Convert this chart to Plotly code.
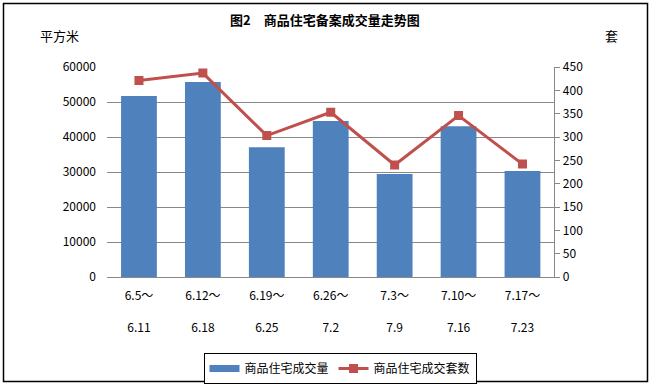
import plotly.graph_objects as go
from plotly.subplots import make_subplots

periods_start = ["6.5～", "6.12～", "6.19～", "6.26～", "7.3～", "7.10～", "7.17～"]
periods_end = ["6.11", "6.18", "6.25", "7.2", "7.9", "7.16", "7.23"]
area_m2 = [51700, 55700, 37100, 44600, 29400, 43100, 30300]
units = [421, 437, 303, 353, 240, 346, 242]

cats = list(range(len(periods_start)))
ticktext = [f"{a}<br><br>{b}" for a, b in zip(periods_start, periods_end)]

FONT = "Noto Sans CJK SC"
BLUE, RED = "#4F81BD", "#C0504D"
fig = make_subplots(specs=[[{"secondary_y": True}]])
fig.add_trace(go.Bar(x=cats, y=area_m2, name="商品住宅成交量", showlegend=False,
                     marker=dict(color=BLUE, line=dict(width=0)), width=0.56),
              secondary_y=False)
# legend entry drawn as a wide block, like the reference
fig.add_trace(go.Scatter(x=[None], y=[None], name="商品住宅成交量", mode="lines",
                         line=dict(color=BLUE, width=7)), secondary_y=False)
fig.add_trace(go.Scatter(x=cats, y=units, name="商品住宅成交套数", mode="lines+markers",
                         line=dict(color=RED, width=3),
                         marker=dict(symbol="square", size=9, color=RED)),
              secondary_y=True)

L, R, T, B = 107, 68, 67, 109
W, H = 651, 386
pw, ph = W - L - R, H - T - B
def px(x): return (x - L) / pw
def py(y): return (H - B - y) / ph

fig.update_layout(
    width=W, height=H, margin=dict(l=L, r=R, t=T, b=B, autoexpand=False),
    paper_bgcolor="white", plot_bgcolor="white",
    font=dict(family=FONT, size=12, color="black"),
    showlegend=True,
    legend=dict(orientation="h", x=px(340), xanchor="center", y=py(353), yanchor="top",
                bordercolor="black", borderwidth=1, font=dict(size=12),
                itemwidth=30, tracegroupgap=0),
    bargap=0.44,
)
fig.update_xaxes(range=[-0.5, 6.5], tickmode="array", tickvals=cats, ticktext=ticktext,
                 showgrid=False, showline=True, linecolor="#888888", linewidth=1,
                 ticks="", tickfont=dict(size=12), zeroline=False, automargin=False,
                 ticklabelstandoff=8)
fig.update_yaxes(range=[0, 60000], dtick=10000, tickformat="d", showgrid=True,
                 gridcolor="#888888", gridwidth=1, showline=False, ticks="",
                 zeroline=False, tickfont=dict(size=12), ticklabelstandoff=10,
                 automargin=False, secondary_y=False)
fig.update_yaxes(range=[0, 450], dtick=50, showgrid=False, showline=True,
                 linecolor="#888888", linewidth=1, ticks="outside", ticklen=5,
                 tickcolor="#888888", zeroline=False, tickfont=dict(size=12),
                 automargin=False, secondary_y=True)

for text, x, y, size in [("<b>图2　商品住宅备案成交量走势图</b>", 325, 20, 13),
                         ("平方米", 59, 35, 13), ("套", 611, 35, 13)]:
    fig.add_annotation(x=px(x), y=py(y), xref="paper", yref="paper", text=text,
                       showarrow=False, xanchor="center", yanchor="middle",
                       font=dict(size=size))
fig.add_shape(type="rect", xref="paper", yref="paper",
              x0=px(3.5), x1=px(647.5), y0=py(381.5), y1=py(3.5),
              line=dict(color="black", width=1.5), fillcolor="rgba(0,0,0,0)")

fig.write_html("out.html", config={"displayModeBar": False},
               post_script="document.body.style.margin='0';document.body.style.overflow='hidden';")
